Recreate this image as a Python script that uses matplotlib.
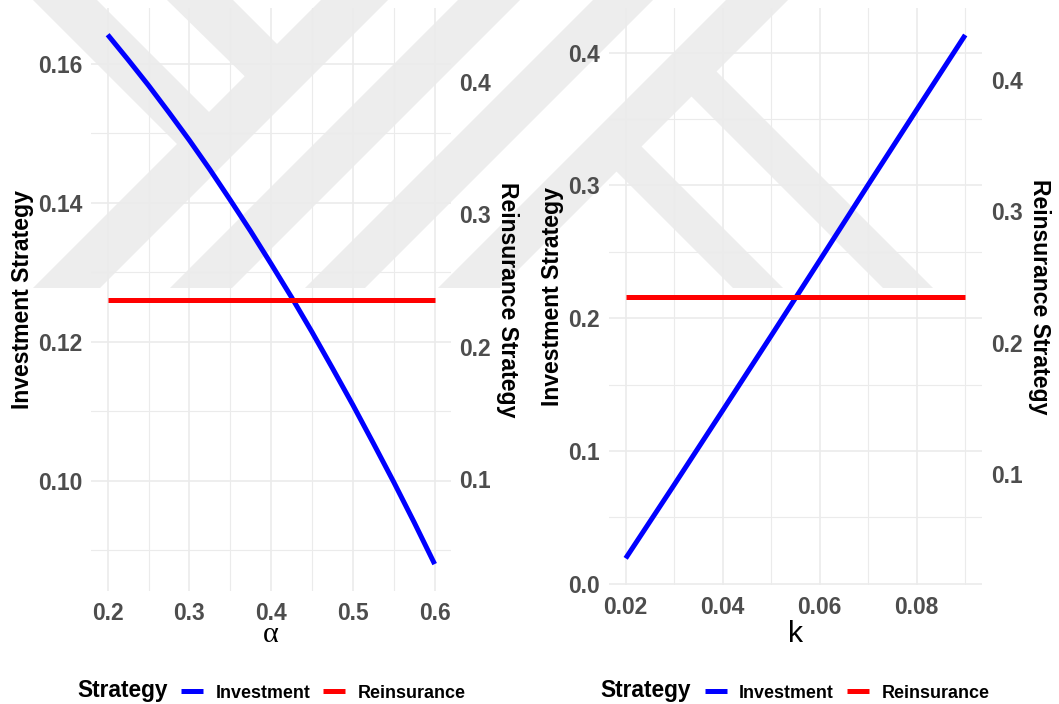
import matplotlib
matplotlib.use("Agg")
import matplotlib.pyplot as plt
from matplotlib.patches import Polygon
from matplotlib.lines import Line2D
from matplotlib.ticker import MultipleLocator, FormatStrFormatter

plt.rcParams['font.family'] = ['Liberation Sans', 'DejaVu Sans']

# ---- data -------------------------------------------------------------
alpha_vals = [0.200, 0.225, 0.250, 0.275, 0.300, 0.325, 0.350, 0.375, 0.400,
              0.425, 0.450, 0.475, 0.500, 0.525, 0.550, 0.575, 0.600]
invest_alpha = [0.1642, 0.1606, 0.1569, 0.1530, 0.1490, 0.1448, 0.1404, 0.1359, 0.1312,
                0.1264, 0.1214, 0.1162, 0.1109, 0.1054, 0.0998, 0.0940, 0.0880]
reins_alpha = [0.235] * len(alpha_vals)

k_vals = [0.02, 0.03, 0.04, 0.05, 0.06, 0.07, 0.08, 0.09]
invest_k = [0.0191, 0.0745, 0.1305, 0.1868, 0.2435, 0.3005, 0.3570, 0.4133]
reins_k = [0.235] * len(k_vals)

series_names = ["Investment", "Reinsurance"]
series_colors = ["#0000FF", "#FF0000"]

# ---- figure -----------------------------------------------------------
W, H = 1059, 704
fig = plt.figure(figsize=(W / 100, H / 100), dpi=100)
fig.patch.set_facecolor("white")


def fx(x):
    return x / W


def fy(y):
    return 1 - y / H


# faint background mark made of 45-degree bands (pixel coordinates)
bands = [
    [(33, 288), (100, 288), (388, 0), (321, 0)],
    [(170, 288), (232, 288), (520, 0), (458, 0)],
    [(305, 288), (365, 288), (653, 0), (593, 0)],
    [(438, 288), (500, 288), (788, 0), (726, 0)],
    [(33, 0), (97, 0), (240, 143), (208, 175)],
    [(167, 0), (233, 0), (305, 72), (273, 104)],
    [(600.5, 155.5), (625.5, 130.5), (783, 288), (733, 288)],
    [(675.5, 80.5), (700.5, 55.5), (933, 288), (883, 288)],
]
for pts in bands:
    fig.patches.append(Polygon([(fx(x), fy(y)) for x, y in pts], closed=True,
                               transform=fig.transFigure, facecolor="#EDEDED",
                               edgecolor="none", zorder=-1))

GRID = "#EBEBEB"
TICK_COLOR = "#4D4D4D"
TICK_SIZE = 16.4
TITLE_SIZE = 16.6


def panel(box, x, inv, rei, xlim, ylim, ylim2, xstep, ystep, y2step,
          xfmt, yfmt, y2fmt, xlabel, xlabel_family):
    left, top, right, bottom = box
    ax = fig.add_axes([fx(left), fy(bottom), fx(right) - fx(left), fy(top) - fy(bottom)])
    ax.set_facecolor("none")
    ax.set_xlim(*xlim)
    ax.set_ylim(*ylim)
    ax.xaxis.set_major_locator(MultipleLocator(xstep))
    ax.xaxis.set_minor_locator(MultipleLocator(xstep / 2))
    ax.yaxis.set_major_locator(MultipleLocator(ystep))
    ax.yaxis.set_minor_locator(MultipleLocator(ystep / 2))
    ax.xaxis.set_major_formatter(FormatStrFormatter(xfmt))
    ax.yaxis.set_major_formatter(FormatStrFormatter(yfmt))
    ax.grid(which="major", color=GRID, linewidth=1.2)
    ax.grid(which="minor", color=GRID, linewidth=0.8)
    ax.set_axisbelow(True)
    for s in ax.spines.values():
        s.set_visible(False)
    ax.tick_params(which="both", length=0)
    ax.tick_params(axis="x", pad=8.0, labelsize=TICK_SIZE, labelcolor=TICK_COLOR)
    ax.tick_params(axis="y", pad=6.2, labelsize=TICK_SIZE, labelcolor=TICK_COLOR)
    for lab in ax.get_xticklabels() + ax.get_yticklabels():
        lab.set_fontweight("bold")
    ax.plot(x, inv, color=series_colors[0], linewidth=3.6, solid_capstyle="butt",
            solid_joinstyle="round", zorder=3)

    ax2 = ax.twinx()
    ax2.set_ylim(*ylim2)
    ax2.yaxis.set_major_locator(MultipleLocator(y2step))
    ax2.yaxis.set_major_formatter(FormatStrFormatter(y2fmt))
    for s in ax2.spines.values():
        s.set_visible(False)
    ax2.tick_params(length=0, pad=6.2, labelsize=TICK_SIZE, labelcolor=TICK_COLOR)
    for lab in ax2.get_yticklabels():
        lab.set_fontweight("bold")
    ax2.plot(x, rei, color=series_colors[1], linewidth=3.6, solid_capstyle="butt")

    cx = (left + right) / 2
    cy = (top + bottom) / 2
    fig.text(fx(cx), fy(642), xlabel, ha="center", va="baseline",
             fontsize=21.8, family=xlabel_family, color="black")
    return ax, ax2, cy


# left panel: sensitivity to alpha
_, _, cyl = panel((91.3, 8.3, 451.0, 590.5), alpha_vals, invest_alpha, reins_alpha,
                  (0.18, 0.62), (0.0842, 0.1680), (0.0160, 0.4554),
                  0.1, 0.02, 0.1, "%.1f", "%.2f", "%.1f", "α",
                  ["Liberation Serif", "DejaVu Serif"])
# right panel: sensitivity to k
_, _, cyr = panel((608.7, 8.3, 982.2, 584.5), k_vals, invest_k, reins_k,
                  (0.0165, 0.0935), (-0.0006, 0.4334), (0.0158, 0.4546),
                  0.02, 0.1, 0.1, "%.2f", "%.1f", "%.1f", "k",
                  ["Liberation Sans", "DejaVu Sans"])

# axis titles
for xl, xr, cy in [(22.5, 508.0, cyl), (552.5, 1040.0, cyr)]:
    fig.text(fx(xl), fy(cy), "Investment Strategy", rotation=90, ha="center", va="center",
             fontsize=TITLE_SIZE, fontweight="bold", color="black")
    fig.text(fx(xr), fy(cy), "Reinsurance Strategy", rotation=-90, ha="center", va="center",
             fontsize=TITLE_SIZE, fontweight="bold", color="black")

# legends below each panel
legend_layouts = [
    (77, [(181, 203, 216), (323, 345, 358)]),
    (600, [(705, 727, 739), (847, 869, 882)]),
]
for title_x, items in legend_layouts:
    fig.text(fx(title_x), fy(697.5), "Strategy", ha="left", va="baseline",
             fontsize=16.4, fontweight="bold", color="black")
    for (k0, k1, tx), name, col in zip(items, series_names, series_colors):
        fig.lines.append(Line2D([fx(k0), fx(k1)], [fy(690.7), fy(690.7)],
                                transform=fig.transFigure, color=col,
                                linewidth=3.6, solid_capstyle="butt"))
        fig.text(fx(tx), fy(697.5), name, ha="left", va="baseline",
                 fontsize=12.9, fontweight="bold", color="black")

fig.savefig("out.png", dpi=100, facecolor="white")
